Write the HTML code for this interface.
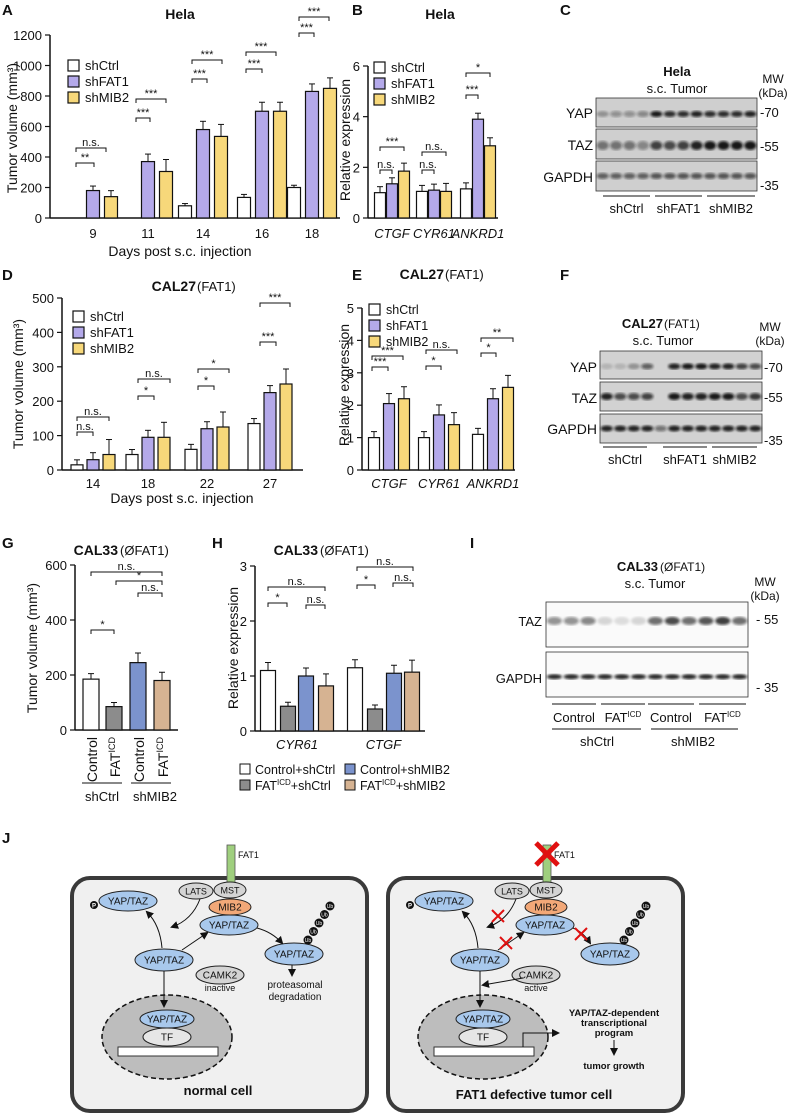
<!DOCTYPE html>
<html><head><meta charset="utf-8"><style>
body{margin:0;background:#fff;}
svg{display:block;font-family:"Liberation Sans",Arial,sans-serif;}
</style></head><body>
<svg id="fig" width="797" height="1115" viewBox="0 0 797 1115" xmlns="http://www.w3.org/2000/svg"></svg>
<script>
// ---- data ----
const aCats=["9","11","14","16","18"];
const aCtrl=[0,0,80,135,200];
const aFat=[180,370,580,700,830];
const aMib=[140,305,535,700,850];
const aErr=[[0,30,40],[0,50,80],[15,55,80],[20,60,60],[15,50,70]];
const aTicks=[0,200,400,600,800,1000,1200];
const bCats=["CTGF","CYR61","ANKRD1"];
const bCtrl=[1.0,1.05,1.15];
const bFat=[1.35,1.1,3.9];
const bMib=[1.85,1.05,2.85];
const bTicks=[0,2,4,6];
const dCats=["14","18","22","27"];
const dCtrl=[15,45,60,135];
const dFat=[30,95,120,225];
const dMib=[45,95,125,250];
const dTicks=[0,100,200,300,400,500];
const eCats=["CTGF","CYR61","ANKRD1"];
const eCtrl=[1.0,1.0,1.1];
const eFat=[2.05,1.7,2.2];
const eMib=[2.2,1.4,2.55];
const eTicks=[0,1,2,3,4,5];
const gVals=[185,85,245,180];
const gTicks=[0,200,400,600];
const hCats=["CYR61","CTGF"];
const hCtrlCtrl=[1.1,1.15];
const hFatCtrl=[0.45,0.4];
const hCtrlMib=[1.0,1.05];
const hFatMib=[0.82,1.07];
const hTicks=[0,1,2,3];

const NS="http://www.w3.org/2000/svg";
const svg=document.getElementById('fig');
function el(tag,attrs,parent,txt){const e=document.createElementNS(NS,tag);for(const k in attrs)e.setAttribute(k,attrs[k]);if(txt!==undefined)e.textContent=txt;(parent||svg).appendChild(e);return e;}
function T(x,y,s,size,opt){opt=opt||{};const t=el('text',{x:x,y:y,'font-size':size||12,'text-anchor':opt.a||'middle','font-weight':opt.b?'bold':'normal','font-style':opt.i?'italic':'normal',fill:opt.f||'#111'},opt.p,s);if(opt.r)t.setAttribute('transform','rotate('+opt.r+' '+x+' '+y+')');return t;}

function axes(g,x0,x1,y0,ytop,ticks){
  const maxv=ticks[ticks.length-1];
  const ys=v=>y0-(v/maxv)*(y0-ytop);
  el('line',{x1:x0,y1:ytop,x2:x0,y2:y0,stroke:'#111','stroke-width':1.5},g);
  el('line',{x1:x0,y1:y0,x2:x1,y2:y0,stroke:'#111','stroke-width':1.5},g);
  ticks.forEach(t=>{const yy=ys(t);el('line',{x1:x0-5,y1:yy,x2:x0,y2:yy,stroke:'#111','stroke-width':1.2},g);T(x0-8,yy+5,String(t),13,{a:'end',p:g});});
  return ys;
}
function bar(g,cx,w,v,ys,y0,fill,err,name){
  const r=el('rect',{x:cx-w/2,y:ys(v),width:w,height:y0-ys(v),fill:fill,stroke:'#111','stroke-width':1.2},g);
  
  
  if(err){const yt=ys(v)-err;el('line',{x1:cx,y1:ys(v),x2:cx,y2:yt,stroke:'#111','stroke-width':1},g);el('line',{x1:cx-3,y1:yt,x2:cx+3,y2:yt,stroke:'#111','stroke-width':1},g);}
}
function sig(g,xa,xb,y,s){el('path',{d:`M${xa} ${y+4}V${y}H${xb}V${y+4}`,fill:'none',stroke:'#111','stroke-width':1},g);T((xa+xb)/2,y-2,s,11,{p:g});}
function legend(g,x,y,items,size){items.forEach((it,i)=>{el('rect',{x:x,y:y+i*16-10,width:11,height:11,fill:it[1],stroke:'#111','stroke-width':1.2},g);T(x+17,y+i*16,it[0],size||13,{a:'start',p:g});});}
function letter(x,y,s){const t=T(x,y,s,15,{b:true,a:'start'});}

const W='#ffffff',P='#b4a9ea',Y='#f7d87a';
// ---- Panel A ----
letter(2,15,'A');
(function(){const g=el('g',{});
 T(180,19,'Hela',14,{b:true,p:g});
 const y0=218,ys=axes(g,50,340,y0,35,aTicks);
 const cx=[93,148,203,262,312];
 aCats.forEach((c,i)=>{T(cx[i],238,c,13,{p:g});
  bar(g,cx[i]-18,13,aCtrl[i],ys,y0,W,aErr[i][0]*0.15,'bar-shctrl-'+c);
  bar(g,cx[i],13,aFat[i],ys,y0,P,aErr[i][1]*0.15,'bar-shfat1-'+c);
  bar(g,cx[i]+18,13,aMib[i],ys,y0,Y,aErr[i][2]*0.15,'bar-shmib2-'+c);});
 T(180,256,'Days post s.c. injection',14,{p:g});
 T(17,128,'Tumor volume (mm³)',14,{r:-90,p:g});
 legend(g,68,70,[['shCtrl',W],['shFAT1',P],['shMIB2',Y]]);
 sig(g,76,94,163,'**');sig(g,76,106,148,'n.s.');
 sig(g,136,150,118,'***');sig(g,136,166,99,'***');
 sig(g,192,207,79,'***');sig(g,192,222,60,'***');
 sig(g,246,262,69,'***');sig(g,246,276,52,'***');
 sig(g,299,314,33,'***');sig(g,299,329,17,'***');
})();
// ---- Panel B ----
letter(352,15,'B');
(function(){const g=el('g',{});
 T(440,19,'Hela',14,{b:true,p:g});
 const y0=218,ys=axes(g,368,498,y0,66,bTicks);
 const cx=[392,434,478];
 bCats.forEach((c,i)=>{T(cx[i],238,c,13,{i:true,p:g});
  bar(g,cx[i]-12,11,bCtrl[i],ys,y0,W,6,'bar-shctrl-'+c);
  bar(g,cx[i],11,bFat[i],ys,y0,P,6,'bar-shfat1-'+c);
  bar(g,cx[i]+12,11,bMib[i],ys,y0,Y,8,'bar-shmib2-'+c);});
 T(350,140,'Relative expression',14,{r:-90,p:g});
 legend(g,374,72,[['shCtrl',W],['shFAT1',P],['shMIB2',Y]]);
 sig(g,380,392,170,'n.s.');sig(g,380,404,147,'***');
 sig(g,422,434,170,'n.s.');sig(g,422,446,152,'n.s.');
 sig(g,466,478,95,'***');sig(g,466,490,73,'*');
})();
// ---- blot helper ----
function blotRow(g,x,y,w,h,n,ints,name,bg,by,bry){const r=el('g',{},g);
 el('rect',{x:x,y:y,width:w,height:h,fill:bg||'#d9d9d9',stroke:'#333','stroke-width':0.8},r);
 const lw=w/n;ints.forEach((v,i)=>{el('ellipse',{cx:x+lw*(i+0.5),cy:y+h*(by||0.5),rx:lw*0.45,ry:bry||3.5,fill:'#111','fill-opacity':v,filter:'url(#blur)'},r);});}
const defs=el('defs',{});const f=el('filter',{id:'blur'},defs);el('feGaussianBlur',{stdDeviation:1.2},f);
// ---- Panel C ----
letter(560,15,'C');
(function(){const g=el('g',{});
 T(677,76,'Hela',13,{b:true,p:g});T(677,93,'s.c. Tumor',13,{p:g});
 T(773,83,'MW',12,{p:g});T(773,97,'(kDa)',12,{p:g});
 const lanes=12;
 blotRow(g,596,98,161,29,lanes,[.3,.35,.35,.4,.95,.85,.85,.9,.85,.85,.85,.9],'yap-band-row','#cfcfcf',0.55,3);
 blotRow(g,596,129,161,30,lanes,[.5,.5,.5,.4,.75,.7,.75,.9,.95,.95,.95,.95],'taz-band-row','#cfcfcf',0.55,4.5);
 blotRow(g,596,161,161,30,lanes,[.6,.6,.6,.6,.65,.65,.65,.65,.65,.65,.65,.65],'gapdh-band-row','#cfcfcf',0.5,3);
 T(593,118,'YAP',14,{a:'end',p:g});T(593,150,'TAZ',14,{a:'end',p:g});T(593,182,'GAPDH',14,{a:'end',p:g});
 T(760,117,'-70',13,{a:'start',p:g});T(760,151,'-55',13,{a:'start',p:g});T(760,190,'-35',13,{a:'start',p:g});
 [[603,650,'shCtrl'],[655,702,'shFAT1'],[707,755,'shMIB2']].forEach(s=>{el('line',{x1:s[0],y1:196,x2:s[1],y2:196,stroke:'#111'},g);T((s[0]+s[1])/2,213,s[2],13,{p:g});});
})();
// ---- Panel D ----
letter(2,280,'D');
(function(){const g=el('g',{});
 T(196,291,'CAL27',14,{b:true,a:'end',p:g});T(197,291,'(FAT1)',13,{a:'start',p:g});
 const y0=470,ys=axes(g,62,303,y0,298,dTicks);
 const cx=[93,148,207,270];
 dCats.forEach((c,i)=>{T(cx[i],488,c,13,{p:g});
  bar(g,cx[i]-16,12,dCtrl[i],ys,y0,W,5,'bar-shctrl-'+c);
  bar(g,cx[i],12,dFat[i],ys,y0,P,7,'bar-shfat1-'+c);
  bar(g,cx[i]+16,12,dMib[i],ys,y0,Y,15,'bar-shmib2-'+c);});
 T(182,503,'Days post s.c. injection',14,{p:g});
 T(23,384,'Tumor volume (mm³)',14,{r:-90,p:g});
 legend(g,73,321,[['shCtrl',W],['shFAT1',P],['shMIB2',Y]]);
 sig(g,77,93,432,'n.s.');sig(g,77,109,417,'n.s.');
 sig(g,138,154,396,'*');sig(g,138,170,379,'n.s.');
 sig(g,198,214,386,'*');sig(g,198,229,369,'*');
 sig(g,260,276,342,'***');sig(g,260,290,303,'***');
})();
// ---- Panel E ----
letter(352,280,'E');
(function(){const g=el('g',{});
 T(444,279,'CAL27',14,{b:true,a:'end',p:g});T(445,279,'(FAT1)',13,{a:'start',p:g});
 const y0=470,ys=axes(g,362,515,y0,308,eTicks);
 const cx=[389,439,493];
 eCats.forEach((c,i)=>{T(cx[i],488,c,13,{i:true,p:g});
  bar(g,cx[i]-15,11,eCtrl[i],ys,y0,W,6,'bar-shctrl-'+c);
  bar(g,cx[i],11,eFat[i],ys,y0,P,10,'bar-shfat1-'+c);
  bar(g,cx[i]+15,11,eMib[i],ys,y0,Y,12,'bar-shmib2-'+c);});
 T(349,385,'Relative expression',14,{r:-90,p:g});
 legend(g,369,314,[['shCtrl',W],['shFAT1',P],['shMIB2',Y]],12.5);
 sig(g,372,388,367,'***');sig(g,372,403,356,'***');
 sig(g,426,441,366,'*');sig(g,426,457,350,'n.s.');
 sig(g,481,496,353,'*');sig(g,481,513,338,'**');
})();
// ---- Panel F ----
letter(560,280,'F');
(function(){const g=el('g',{});
 T(663,328,'CAL27',13,{b:true,a:'end',p:g});T(664,328,'(FAT1)',12,{a:'start',p:g});T(663,345,'s.c. Tumor',13,{p:g});
 T(770,331,'MW',12,{p:g});T(770,345,'(kDa)',12,{p:g});
 blotRow(g,600,351,162,28,12,[.15,.15,.3,.6,0,.9,.95,.95,.9,.9,.75,.7],'yap-band-row','#d2d2d2',0.55,3);
 blotRow(g,600,382,162,29,12,[.9,.7,.7,.75,0,.95,.9,.9,.95,.95,.7,.8],'taz-band-row','#d2d2d2',0.5,3.5);
 blotRow(g,600,414,162,29,12,[.9,.9,.9,.9,.5,.9,.9,.9,.9,.9,.9,.9],'gapdh-band-row','#d2d2d2',0.5,3);
 T(597,372,'YAP',14,{a:'end',p:g});T(597,403,'TAZ',14,{a:'end',p:g});T(597,434,'GAPDH',14,{a:'end',p:g});
 T(764,372,'-70',13,{a:'start',p:g});T(764,402,'-55',13,{a:'start',p:g});T(764,445,'-35',13,{a:'start',p:g});
 [[603,647,'shCtrl'],[663,707,'shFAT1'],[712,757,'shMIB2']].forEach(s=>{el('line',{x1:s[0],y1:447,x2:s[1],y2:447,stroke:'#111'},g);T((s[0]+s[1])/2,464,s[2],13,{p:g});});
})();
// ---- Panel G ----
const GW='#ffffff',GG='#8c8c8c',GB='#7b93cd',GT='#d6b392';
letter(2,548,'G');
(function(){const g=el('g',{});
 T(118,555,'CAL33',14,{b:true,a:'end',p:g});T(120,555,'(ØFAT1)',13,{a:'start',p:g});
 const y0=730,ys=axes(g,75,178,y0,565,gTicks);
 const cx=[91,114,138,162],cols=[GW,GG,GB,GT],lab=['Control','FAT','Control','FAT'];
 gVals.forEach((v,i)=>{bar(g,cx[i],16,v,ys,y0,cols[i],[20,15,35,30][i]/(600/165),'bar-g-'+i);
  const t=T(cx[i]+6,737,lab[i],14,{a:'end',r:-90,p:g});if(lab[i]==='FAT'){el('tspan',{'font-size':9,dy:-5},t,'ICD');}});
 el('line',{x1:82,y1:783,x2:122,y2:783,stroke:'#111'},g);el('line',{x1:131,y1:783,x2:171,y2:783,stroke:'#111'},g);
 T(102,801,'shCtrl',13,{p:g});T(155,801,'shMIB2',13,{p:g});
 T(37,648,'Tumor volume (mm³)',14,{r:-90,p:g});
 sig(g,91,114,630,'*');sig(g,138,162,593,'n.s.');sig(g,116,162,581,'*');sig(g,91,162,572,'n.s.');
})();
// ---- Panel H ----
letter(212,548,'H');
(function(){const g=el('g',{});
 T(318,555,'CAL33',14,{b:true,a:'end',p:g});T(320,555,'(ØFAT1)',13,{a:'start',p:g});
 const y0=731,ys=axes(g,255,425,y0,566,hTicks);
 const groups=[[268,288,306,326],[355,375,394,412]];
 hCats.forEach((c,j)=>{const cx=groups[j];
  bar(g,cx[0],15,hCtrlCtrl[j],ys,y0,GW,8,'bar-control-shctrl-'+c);
  bar(g,cx[1],15,hFatCtrl[j],ys,y0,GG,4,'bar-faticd-shctrl-'+c);
  bar(g,cx[2],15,hCtrlMib[j],ys,y0,GB,8,'bar-control-shmib2-'+c);
  bar(g,cx[3],15,hFatMib[j],ys,y0,GT,12,'bar-faticd-shmib2-'+c);
  T((cx[0]+cx[3])/2,749,c,13,{i:true,p:g});});
 T(238,648,'Relative expression',14,{r:-90,p:g});
 sig(g,268,287,603,'*');sig(g,306,325,605,'n.s.');sig(g,268,325,587,'n.s.');
 sig(g,357,375,585,'*');sig(g,393,413,583,'n.s.');sig(g,357,413,567,'n.s.');
 const lg=[[240,774,'Control+shCtrl',GW,''],[240,790,'FAT',GG,'+shCtrl'],[345,774,'Control+shMIB2',GB,''],[345,790,'FAT',GT,'+shMIB2']];
 lg.forEach(l=>{el('rect',{x:l[0],y:l[1]-10,width:10,height:10,fill:l[3],stroke:'#111'},g);const t=T(l[0]+15,l[1],l[2],12.5,{a:'start',p:g});if(l[4]){el('tspan',{'font-size':8,dy:-5},t,'ICD');el('tspan',{dy:5},t,l[4]);}});
})();
// ---- Panel I ----
letter(470,548,'I');
(function(){const g=el('g',{});
 T(658,571,'CAL33',13,{b:true,a:'end',p:g});T(660,571,'(ØFAT1)',12,{a:'start',p:g});T(655,588,'s.c. Tumor',13,{p:g});
 T(765,586,'MW',12,{p:g});T(765,600,'(kDa)',12,{p:g});
 blotRow(g,546,602,202,45,12,[.45,.45,.5,.15,.12,.15,.6,.75,.6,.7,.8,.6],'taz-band-row','#fafafa',0.42,4);
 blotRow(g,546,652,202,45,12,[.9,.9,.9,.9,.9,.9,.9,.9,.9,.9,.9,.9],'gapdh-band-row','#fafafa',0.55,2.5);
 T(542,626,'TAZ',13,{a:'end',p:g});T(542,683,'GAPDH',13,{a:'end',p:g});
 T(756,624,'- 55',13,{a:'start',p:g});T(756,692,'- 35',13,{a:'start',p:g});
 [[552,596,'Control'],[601,645,'FAT'],[648,694,'Control'],[699,746,'FAT']].forEach(s=>{el('line',{x1:s[0],y1:704,x2:s[1],y2:704,stroke:'#111'},g);const t=T((s[0]+s[1])/2,722,s[2],13,{p:g});if(s[2]==='FAT')el('tspan',{'font-size':8,dy:-5},t,'ICD');});
 el('line',{x1:552,y1:729,x2:641,y2:729,stroke:'#111'},g);el('line',{x1:651,y1:729,x2:738,y2:729,stroke:'#111'},g);
 T(597,746,'shCtrl',13,{p:g});T(693,746,'shMIB2',13,{p:g});
})();
// ---- Panel J ----
letter(2,843,'J');
function oval(g,cx,cy,rx,ry,fill,txt,fs){el('ellipse',{cx:cx,cy:cy,rx:rx,ry:ry,fill:fill,stroke:'#222','stroke-width':1},g);if(txt)T(cx,cy+3.5,txt,fs||10,{p:g});}
function arr(g,d){el('path',{d:d,fill:'none',stroke:'#111','stroke-width':1,'marker-end':'url(#ah)'},g);}
const mk=el('marker',{id:'ah',markerWidth:8,markerHeight:8,refX:6,refY:4,orient:'auto'},defs);el('path',{d:'M0 0L8 4L0 8z',fill:'#111'},mk);
function redX(g,x,y,s){el('path',{d:`M${x-s} ${y-s}L${x+s} ${y+s}M${x+s} ${y-s}L${x-s} ${y+s}`,stroke:'#e01010','stroke-width':2},g);}
function cell(ox,tumor){const g=el('g',{});
 el('rect',{x:ox,y:878,width:295,height:233,rx:18,fill:'#f0f0f0',stroke:'#3a3a3a','stroke-width':4},g);
 el('rect',{x:ox+155,y:845,width:8,height:38,fill:'#9fcf7e',stroke:'#555','stroke-width':0.8},g);
 T(ox+166,858,'FAT1',9,{a:'start',p:g});
 if(tumor){el('path',{d:`M${ox+148} 843L${ox+170} 865M${ox+170} 843L${ox+148} 865`,stroke:'#e01010','stroke-width':5},g);}
 oval(g,ox+124,891,17,8,'#d4d4d4','LATS',9);oval(g,ox+158,890,16,8,'#d4d4d4','MST',9);
 oval(g,ox+158,907,21,8,'#f2a878','MIB2',10);oval(g,ox+157,925,29,10,'#a8c8ec','YAP/TAZ',10);
 oval(g,ox+56,901,29,10,'#a8c8ec','YAP/TAZ',10);el('circle',{cx:ox+22,cy:905,r:4,fill:'#111'},g);T(ox+22,907.5,'P',6,{f:'#fff',b:true,p:g});
 oval(g,ox+92,960,29,11,'#a8c8ec','YAP/TAZ',10);
 oval(g,ox+148,975,24,9,'#d4d4d4','CAMK2',10);T(ox+148,991,tumor?'active':'inactive',9,{p:g});
 oval(g,ox+222,954,29,11,'#a8c8ec','YAP/TAZ',10);
 for(let i=0;i<5;i++){const cx=ox+236+i*5.5,cy=940-i*8.5;el('circle',{cx:cx,cy:cy,r:4.5,fill:'#111'},g);T(cx,cy+2,'Ub',5,{f:'#fff',p:g});}
 arr(g,`M${ox+90} 948Q${ox+88} 925 ${ox+75} 912`);
 arr(g,`M${ox+128} 899Q${ox+120} 920 ${ox+100} 927`);
 arr(g,`M${ox+110} 950L${ox+135} 933`);
 el('ellipse',{cx:ox+95,cy:1037,rx:65,ry:42,fill:'#bdbdbd',stroke:'#111','stroke-width':1.5,'stroke-dasharray':'5 3'},g);
 arr(g,`M${ox+92} 971L${ox+92} 1006`);
 oval(g,ox+95,1019,27,9,'#a8c8ec','YAP/TAZ',10);oval(g,ox+95,1037,24,9,'#e6e6e6','TF',10);
 el('rect',{x:ox+46,y:1047,width:100,height:9,fill:'#fff',stroke:'#333'},g);
 if(!tumor){arr(g,`M${ox+185} 928Q${ox+200} 932 ${ox+210} 943`);arr(g,`M${ox+220} 965L${ox+220} 975`);T(ox+223,988,'proteasomal',10,{p:g});T(ox+223,1000,'degradation',10,{p:g});T(ox+146,1095,'normal cell',13,{b:true,p:g});}
 else{arr(g,`M${ox+185} 928Q${ox+195} 932 ${ox+202} 943`);redX(g,ox+193,934,6);redX(g,ox+110,916,6);redX(g,ox+118,943,6);
  arr(g,`M${ox+135} 978L${ox+95} 985`);
  el('path',{d:`M${ox+135} 1047V1033H${ox+150}`,fill:'none',stroke:'#111'},g);arr(g,`M${ox+145} 1033H${ox+170}`);
  T(ox+226,1016,'YAP/TAZ-dependent',9.5,{b:true,p:g});T(ox+226,1026,'transcriptional',9.5,{b:true,p:g});T(ox+226,1036,'program',9.5,{b:true,p:g});
  arr(g,`M${ox+226} 1040L${ox+226} 1054`);T(ox+226,1069,'tumor growth',9.5,{b:true,p:g});
  T(ox+146,1099,'FAT1 defective tumor cell',13,{b:true,p:g});}
}
cell(72,false);cell(388,true);
</script>
</body></html>
